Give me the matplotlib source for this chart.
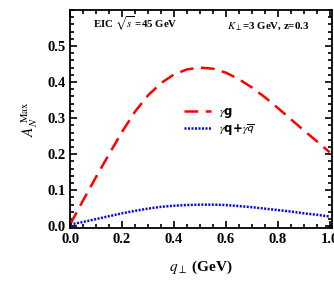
import matplotlib
matplotlib.use("Agg")
import matplotlib.pyplot as plt
from matplotlib.ticker import MultipleLocator

# q_perp values (GeV) and A_N^Max for the two channels
q = [0.0, 0.05, 0.1, 0.15, 0.2, 0.25, 0.3, 0.35, 0.4, 0.45, 0.5,
     0.55, 0.6, 0.65, 0.7, 0.75, 0.8, 0.85, 0.9, 0.95, 1.0]
gluon = [0.005, 0.072, 0.137, 0.2, 0.262, 0.318, 0.363, 0.397, 0.421, 0.435, 0.44,
         0.437, 0.426, 0.408, 0.385, 0.358, 0.328, 0.297, 0.266, 0.236, 0.205]
quark = [0.005, 0.012, 0.02, 0.028, 0.036, 0.043, 0.049, 0.054, 0.057, 0.059, 0.06,
         0.06, 0.059, 0.056, 0.053, 0.049, 0.045, 0.041, 0.036, 0.032, 0.027]

plt.rcParams['font.family'] = ['Liberation Serif', 'DejaVu Serif']
plt.rcParams['mathtext.fontset'] = 'stix'

fig = plt.figure(figsize=(3.34, 2.83), dpi=100)
ax = fig.add_axes([0.21, 0.194, 0.785, 0.771])

ax.plot(q, gluon, color='red', lw=1.8, dashes=(5.5, 3), label=r'$\gamma$g')
ax.plot(q, quark, color='blue', lw=1.8, dashes=(0.8, 0.6),
        label=r'$\gamma$q+$\gamma\overline{\mathsf{q}}$')

ax.set_xlim(0, 1.01)
ax.set_ylim(-0.005, 0.6)
ax.xaxis.set_major_locator(MultipleLocator(0.2))
ax.xaxis.set_minor_locator(MultipleLocator(0.05))
ax.yaxis.set_minor_locator(MultipleLocator(0.02))
ax.set_yticks([0.0, 0.1, 0.2, 0.3, 0.4, 0.5])
ax.tick_params(which='both', direction='in', top=True, right=True, width=1.2)
ax.tick_params(which='major', length=5, labelsize=10.5)
ax.tick_params(which='minor', length=3)
for lab in ax.get_xticklabels() + ax.get_yticklabels():
    lab.set_fontweight('bold')
for s in ax.spines.values():
    s.set_linewidth(1.3)

ax.set_xlabel(r'$q_{\perp}$ (GeV)', fontsize=11, fontweight='bold', labelpad=9)
ax.set_ylabel(r'$A_N^{\ \mathrm{Max}}$', fontsize=11, labelpad=5)

ax.text(0.088, 0.915, r'EIC $\sqrt{s}$ =45 GeV', transform=ax.transAxes,
        fontsize=7.8, fontweight='bold')
ax.text(0.6, 0.915, r'$K_{\perp}$=3 GeV, z=0.3', transform=ax.transAxes,
        fontsize=7.8, fontweight='bold')

leg = ax.legend(loc='center left', bbox_to_anchor=(0.395, 0.49), frameon=False,
                handlelength=2.3, handletextpad=0.6, labelspacing=0.15,
                prop={'family': 'DejaVu Sans', 'weight': 'bold', 'size': 8.5})

fig.savefig("out.png", dpi=100)
